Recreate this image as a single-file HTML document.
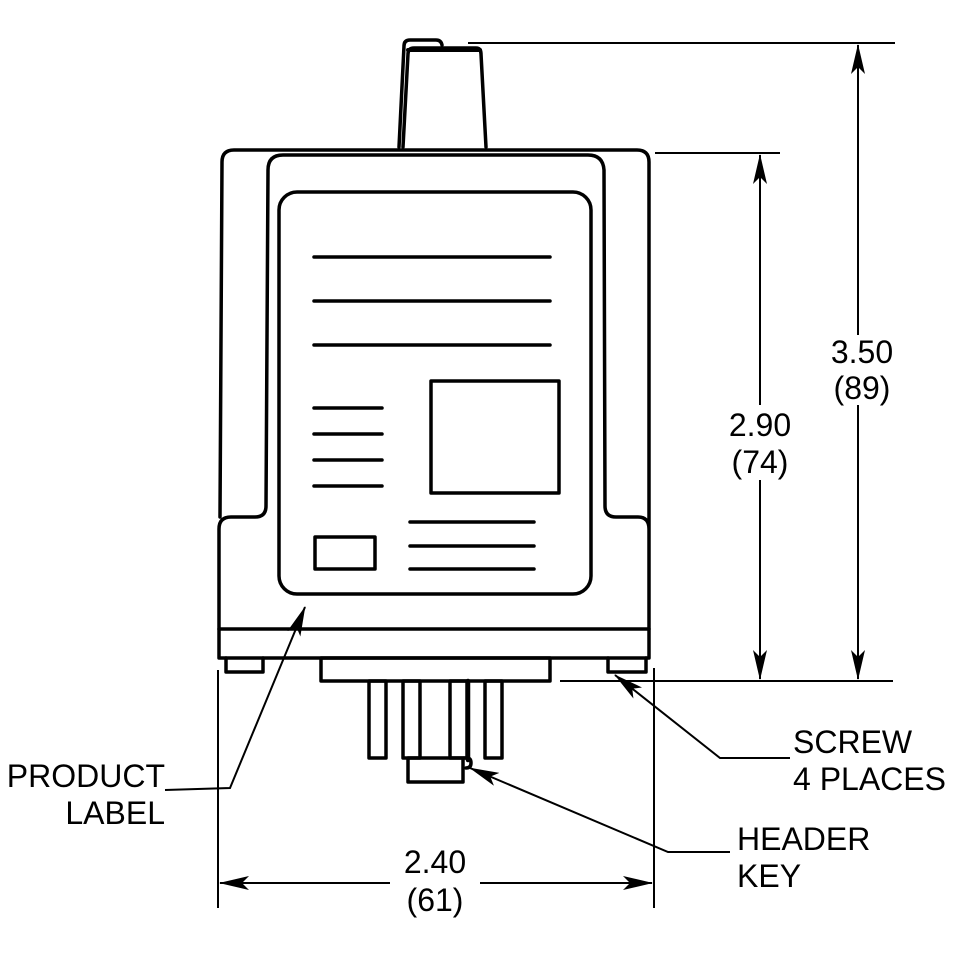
<!DOCTYPE html>
<html><head><style>html,body{margin:0;padding:0;background:#fff}svg{display:block}</style></head><body>
<svg width="960" height="960" viewBox="0 0 960 960" xmlns="http://www.w3.org/2000/svg" font-family="Liberation Sans, Arial, sans-serif">
<defs>
<marker id="b" markerWidth="30" markerHeight="14" refX="29" refY="7" orient="auto" markerUnits="userSpaceOnUse"><path d="M0,0 L30,7 L0,14 L7,7 Z" fill="#000"/></marker></defs>
<g fill="none" stroke="#000" stroke-width="3.5" stroke-linejoin="round" stroke-linecap="round">
<path d="M399,147 L404,46 Q404,40 410,40 L436,40 Q441,40 442,45"/>
<path d="M403,147 L408,54 Q408,48 414,48 L476,48 Q481,48 481,54 L486,147"/>
<line x1="408" y1="50" x2="480" y2="50" stroke-width="4"/>
<path d="M220,517 L222,162 Q222,150 234,150 L637,150 Q649,150 649,162 L649,658 L219,658 L219,529 Q219,517 231,517 L255,517 Q266,517 266,506 L268,170 Q268,155 283,155 L588,155 Q603,155 604,170 L605,506 Q605,517 616,517 L638,517 Q649,517 649,529"/>
<line x1="219" y1="629" x2="649" y2="629"/>
<rect x="279" y="192" width="312" height="402" rx="18"/>
<line x1="314" y1="257" x2="550" y2="257"/><line x1="314" y1="301" x2="550" y2="301"/><line x1="314" y1="345" x2="550" y2="345"/>
<line x1="314" y1="408" x2="382" y2="408"/><line x1="314" y1="434" x2="382" y2="434"/><line x1="314" y1="460" x2="382" y2="460"/><line x1="314" y1="486" x2="382" y2="486"/>
<line x1="410" y1="522" x2="534" y2="522"/><line x1="410" y1="546" x2="534" y2="546"/><line x1="410" y1="569" x2="534" y2="569"/>
<rect x="431" y="381" width="128" height="112"/>
<rect x="315" y="537" width="60" height="32"/>
<path d="M226,658 L226,672 L263,672 L263,658"/>
<path d="M608,658 L608,672 L646,672 L646,658"/>
<rect x="321" y="658" width="229" height="23"/>
<rect x="369" y="681" width="17" height="77"/><rect x="403" y="681" width="17" height="77"/>
<rect x="450" y="681" width="17" height="77"/><rect x="485" y="681" width="17" height="77"/>
<line x1="468" y1="681" x2="468" y2="760" stroke-width="4.5"/>
<rect x="408" y="758" width="55" height="24"/>
<path d="M464,758 L467,758 Q471,758 471,763 Q471,768 466,768"/>
</g>
<g fill="none" stroke="#000" stroke-width="2">
<line x1="468" y1="43" x2="895" y2="43"/><line x1="560" y1="681" x2="893" y2="681"/>
<line x1="655" y1="153" x2="780" y2="153"/>
<line x1="858" y1="335" x2="858" y2="45" marker-end="url(#b)"/><line x1="858" y1="405" x2="858" y2="679" marker-end="url(#b)"/>
<line x1="760" y1="405" x2="760" y2="155" marker-end="url(#b)"/><line x1="760" y1="480" x2="760" y2="679" marker-end="url(#b)"/>
<line x1="218" y1="670" x2="218" y2="908"/><line x1="654" y1="668" x2="654" y2="908"/>
<line x1="390" y1="883" x2="220" y2="883" marker-end="url(#b)"/><line x1="480" y1="883" x2="652" y2="883" marker-end="url(#b)"/>
<polyline points="165,790 230,788 305,607" marker-end="url(#b)"/>
<polyline points="790,758 720,758 615,675" marker-end="url(#b)"/>
<polyline points="730,852 668,852 470,768" marker-end="url(#b)"/>
</g>
<g font-size="32" fill="#000">
<text x="862" y="363" text-anchor="middle">3.50</text><text x="862" y="399" text-anchor="middle">(89)</text>
<text x="760" y="436" text-anchor="middle">2.90</text><text x="760" y="473" text-anchor="middle">(74)</text>
<text x="435" y="873" text-anchor="middle">2.40</text><text x="435" y="911" text-anchor="middle">(61)</text>
<text x="165" y="787" text-anchor="end">PRODUCT</text><text x="165" y="824" text-anchor="end">LABEL</text>
<text x="793" y="753">SCREW</text><text x="793" y="790">4 PLACES</text>
<text x="737" y="850">HEADER</text><text x="737" y="887">KEY</text>
</g>
</svg>
</body></html>
